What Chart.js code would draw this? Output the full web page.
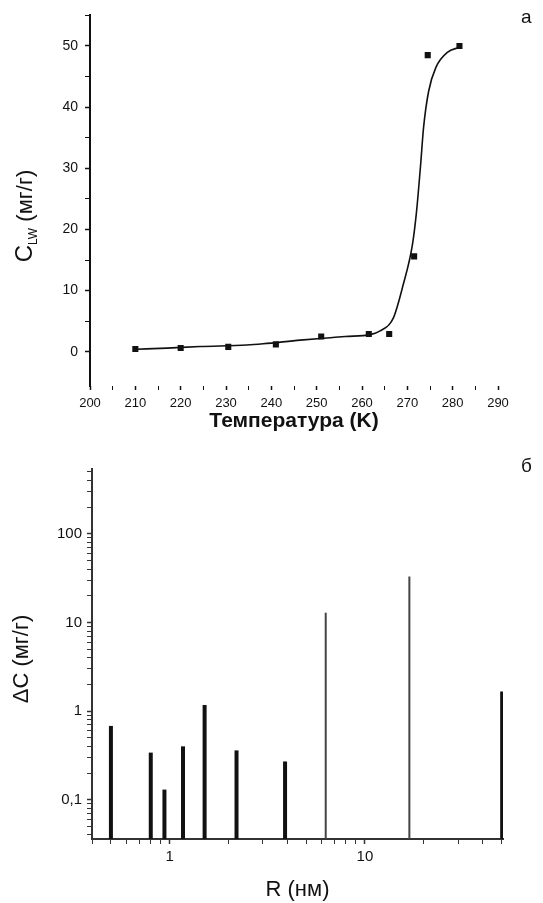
<!DOCTYPE html>
<html>
<head>
<meta charset="utf-8">
<script src="https://cdn.jsdelivr.net/npm/chart.js@4.4.0/dist/chart.umd.min.js"></script>
<style>
    body { margin: 0; background: #fff; width: 543px; height: 903px; position: relative; overflow: hidden;
           font-family: "Liberation Sans", Arial, sans-serif; }
    #boxA { position: absolute; left: 0; top: 0; width: 543px; height: 455px; }
    #boxB { position: absolute; left: 0; top: 455px; width: 543px; height: 448px; }
    .tag { position: absolute; font-size: 19px; color: #111; line-height: 1; }
</style>
</head>
<body>
<div id="boxA"><canvas id="chartA"></canvas></div>
<div id="boxB"><canvas id="chartB"></canvas></div>
<div class="tag" style="left:521px; top:7px;">а</div>
<div class="tag" style="left:521px; top:456px;">б</div>
<script>
// panel a - measured points and fitted curve
var tempK = [210, 220, 230.5, 241, 251, 261.5, 266, 271.5, 274.5, 281.5];
var cLW = [0.45, 0.6, 0.8, 1.2, 2.5, 2.9, 2.9, 15.6, 48.5, 50];
var fitT = [210.2, 217, 224.3, 234.6, 238.2, 246.4, 253, 256.3, 261.8, 264, 266.9, 269.1, 271.1, 272, 272.9, 273.6, 274.7, 276.3, 278.9, 281.7];
var fitC = [0.4, 0.6, 0.85, 1.1, 1.3, 1.9, 2.3, 2.5, 2.8, 3.4, 5.5, 11, 17.4, 22.7, 30.3, 36.8, 42.6, 46.5, 49, 49.8];
var tempLabels = [200, 210, 220, 230, 240, 250, 260, 270, 280, 290];
var cLabels = [0, 10, 20, 30, 40, 50];

// panel b - increments vs pore radius
var radiusNm = [0.5, 0.8, 0.94, 1.17, 1.51, 2.2, 3.9, 6.3, 16.9, 50.5];
var deltaC = [0.68, 0.34, 0.13, 0.40, 1.17, 0.36, 0.27, 12.9, 33, 1.66];
var rLabels = [1, 10];
var dcLabels = [0.1, 1, 10, 100];

var INK = '#111';
var FONT = '"Liberation Sans", Arial, sans-serif';

// rotated y title, drawn in pieces so the subscript works
var sideTitle = {
    id: 'sideTitle',
    afterDraw: function(chart, args, opts) {
        var parts = opts.parts || [];
        var ctx = chart.ctx;
        ctx.save();
        var total = 0;
        parts.forEach(function(p) {
            ctx.font = (p.weight || 'normal') + ' ' + p.size + 'px ' + FONT;
            p.w = ctx.measureText(p.text).width;
            total += p.w;
        });
        ctx.translate(opts.x, opts.y);
        ctx.rotate(-Math.PI / 2);
        ctx.fillStyle = INK;
        ctx.textBaseline = 'alphabetic';
        var pos = -total / 2;
        parts.forEach(function(p) {
            ctx.font = (p.weight || 'normal') + ' ' + p.size + 'px ' + FONT;
            ctx.fillText(p.text, pos, p.drop || 0);
            pos += p.w;
        });
        ctx.restore();
    }
};

function hasValue(list, v) {
    for (var i = 0; i < list.length; i++) {
        if (Math.abs(list[i] - v) < 1e-9 * Math.max(1, Math.abs(v))) return true;
    }
    return false;
}

function stepTicks(labels, step) {
    return function(scale) {
        var t = [];
        for (var v = labels[0]; v <= labels[labels.length - 1] + 1e-6; v += step) t.push({value: v});
        scale.ticks = t;
    };
}

function logTicks(scale) {
    var t = [];
    for (var e = -2; e <= 2; e++) {
        for (var k = 1; k < 10; k++) {
            var v = parseFloat((k * Math.pow(10, e)).toPrecision(6));
            if (v >= scale.min && v <= scale.max) t.push({value: v});
        }
    }
    scale.ticks = t;
}

function fixSize(prop, size) {
    return function(scale) { scale[prop] = size; };
}

function points(xs, ys) {
    return xs.map(function(x, i) { return {x: x, y: ys[i]}; });
}

function loadChartA() {
    var ctx = document.getElementById('chartA').getContext('2d');
    new Chart(ctx, {
        type: 'scatter',
        data: {
            datasets: [{
                data: points(tempK, cLW),
                pointStyle: 'rect',
                pointRadius: 4.3,
                backgroundColor: INK,
                borderColor: INK,
                borderWidth: 0,
                showLine: false
            }, {
                type: 'line',
                data: points(fitT, fitC),
                borderColor: INK,
                borderWidth: 1.6,
                pointRadius: 0,
                cubicInterpolationMode: 'monotone',
                fill: false
            }]
        },
        options: {
            responsive: true,
            maintainAspectRatio: false,
            animation: false,
            layout: { padding: { left: 0, top: 10, right: 45, bottom: 0 } },
            plugins: {
                legend: { display: false },
                tooltip: { enabled: false },
                sideTitle: {
                    x: 32, y: 216,
                    parts: [
                        { text: 'C', size: 24 },
                        { text: 'LW', size: 12, drop: 5 },
                        { text: ' (мг/г)', size: 22 }
                    ]
                }
            },
            scales: {
                x: {
                    type: 'linear',
                    min: 200,
                    max: 290,
                    afterBuildTicks: stepTicks(tempLabels, 5),
                    afterFit: fixSize('height', 69),
                    border: { display: false },
                    grid: { drawOnChartArea: false, tickLength: 4, tickColor: INK,
                            tickWidth: function(c) { return hasValue(tempLabels, c.tick.value) ? 1.5 : 1; } },
                    ticks: {
                        autoSkip: false, maxRotation: 0, padding: 6, color: INK,
                        font: { family: FONT, size: 13 },
                        callback: function(v) { return hasValue(tempLabels, v) ? String(v) : ''; }
                    },
                    title: {
                        display: true, text: 'Температура (K)', color: INK,
                        font: { family: FONT, size: 21, weight: 'bold' },
                        padding: { top: 0, bottom: 21 }
                    }
                },
                y: {
                    type: 'linear',
                    min: -5.6,
                    max: 55,
                    afterBuildTicks: stepTicks([0, 55], 5),
                    afterFit: fixSize('width', 90),
                    border: { display: true, color: INK, width: 2 },
                    grid: { drawOnChartArea: false, tickLength: 5, tickColor: INK,
                            tickWidth: function(c) { return hasValue(cLabels, c.tick.value) ? 1.5 : 1; } },
                    ticks: {
                        autoSkip: false, padding: 7, color: INK,
                        font: { family: FONT, size: 14 },
                        callback: function(v) { return hasValue(cLabels, v) ? String(v) : ''; }
                    }
                }
            }
        },
        plugins: [sideTitle]
    });
}

function loadChartB() {
    var ctx = document.getElementById('chartB').getContext('2d');
    var yMin = 0.036;
    // each pore size is a vertical stick from the axis floor up to its value
    var sticks = radiusNm.map(function(r, i) {
        var thin = (i === 7 || i === 8);
        return {
            type: 'line',
            data: [{x: r, y: yMin}, {x: r, y: deltaC[i]}],
            borderColor: thin ? '#444' : INK,
            borderWidth: thin ? 2 : 4,
            borderCapStyle: 'butt',
            pointRadius: 0,
            fill: false
        };
    });
    new Chart(ctx, {
        type: 'line',
        data: { datasets: sticks },
        options: {
            responsive: true,
            maintainAspectRatio: false,
            animation: false,
            layout: { padding: { left: 0, top: 8, right: 40, bottom: 0 } },
            plugins: {
                legend: { display: false },
                tooltip: { enabled: false },
                sideTitle: {
                    x: 28, y: 204,
                    parts: [{ text: 'ΔC (мг/г)', size: 22 }]
                }
            },
            scales: {
                x: {
                    type: 'logarithmic',
                    min: 0.4,
                    max: 51,
                    afterBuildTicks: logTicks,
                    afterFit: fixSize('height', 64),
                    border: { display: true, color: '#333', width: 2 },
                    grid: { drawOnChartArea: false, tickLength: 5, tickColor: '#333',
                            tickWidth: function(c) { return hasValue(rLabels, c.tick.value) ? 1.5 : 1; } },
                    ticks: {
                        autoSkip: false, maxRotation: 0, padding: 4, color: INK,
                        font: { family: FONT, size: 15 },
                        callback: function(v) { return hasValue(rLabels, v) ? String(v) : ''; }
                    },
                    title: {
                        display: true, text: 'R (нм)', color: INK,
                        font: { family: FONT, size: 22 },
                        padding: { top: 0, bottom: 0 }
                    }
                },
                y: {
                    type: 'logarithmic',
                    min: yMin,
                    max: 540,
                    afterBuildTicks: logTicks,
                    afterFit: fixSize('width', 92),
                    border: { display: true, color: '#333', width: 2 },
                    grid: { drawOnChartArea: false, tickLength: 5, tickColor: '#333',
                            tickWidth: function(c) { return hasValue(dcLabels, c.tick.value) ? 1.5 : 1; } },
                    ticks: {
                        autoSkip: false, padding: 5, color: INK,
                        font: { family: FONT, size: 15 },
                        callback: function(v) { return hasValue(dcLabels, v) ? String(v).replace('.', ',') : ''; }
                    }
                }
            }
        },
        plugins: [sideTitle]
    });
}

window.onload = function() {
    loadChartA();
    loadChartB();
};
</script>
</body>
</html>
